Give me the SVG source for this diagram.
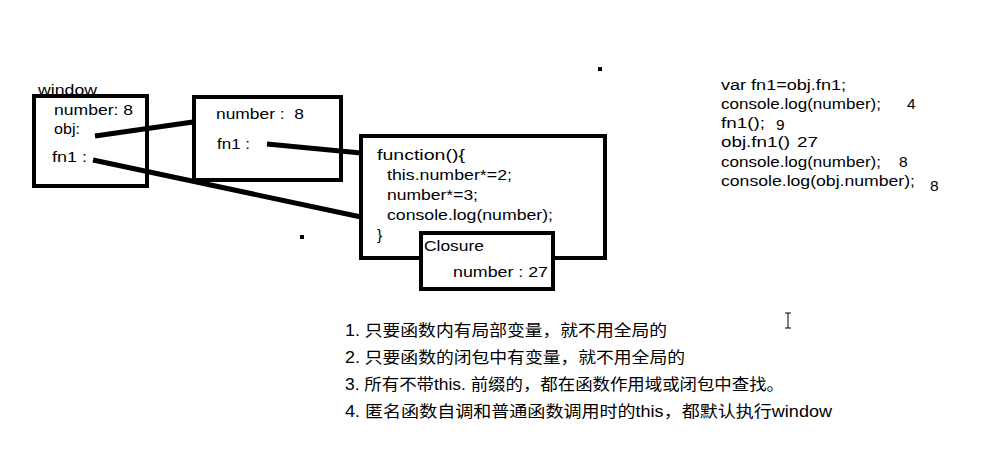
<svg xmlns="http://www.w3.org/2000/svg" width="1001" height="454" viewBox="0 0 1001 454">
<style>
text{font-family:"Liberation Sans",Arial,"Noto Sans CJK SC",sans-serif;font-size:15.5px;fill:#000;white-space:pre}
.cn{font-size:16px}
.box{fill:#fff;stroke:#000;stroke-width:4}
.open{fill:none}
.conn{stroke:#000;stroke-width:5;stroke-linecap:butt;fill:none}
</style>
<rect width="1001" height="454" fill="#fff"/>
<g id="connectors">
<line class="conn" x1="95" y1="136" x2="193" y2="122"/>
<line class="conn" x1="267" y1="144" x2="361" y2="153"/>
<line class="conn" x1="93" y1="160" x2="361" y2="217"/>
</g>
<g id="window">
<rect class="box open" x="34" y="96" width="113" height="90"/>
<text x="38" y="95" textLength="59" lengthAdjust="spacingAndGlyphs">window</text>
<text x="54" y="115" textLength="79" lengthAdjust="spacingAndGlyphs">number: 8</text>
<text x="54" y="134" textLength="26" lengthAdjust="spacingAndGlyphs">obj:</text>
<text x="52" y="162" textLength="35" lengthAdjust="spacingAndGlyphs">fn1 :</text>
</g>
<g id="obj">
<rect class="box open" x="194" y="97" width="147" height="83"/>
<text x="216" y="119" textLength="88" lengthAdjust="spacingAndGlyphs">number :  8</text>
<text x="217" y="149" textLength="33" lengthAdjust="spacingAndGlyphs">fn1 :</text>
</g>
<g id="function">
<rect class="box" x="361" y="136" width="244" height="122"/>
<text x="377" y="160" textLength="88" lengthAdjust="spacingAndGlyphs">function(){</text>
<text x="387" y="180" textLength="125" lengthAdjust="spacingAndGlyphs">this.number*=2;</text>
<text x="387" y="200" textLength="91" lengthAdjust="spacingAndGlyphs">number*=3;</text>
<text x="387" y="220" textLength="166" lengthAdjust="spacingAndGlyphs">console.log(number);</text>
<text x="377" y="240">}</text>
</g>
<g id="closure">
<rect class="box" x="421" y="233" width="132" height="56"/>
<text x="424" y="251" textLength="60" lengthAdjust="spacingAndGlyphs">Closure</text>
<text x="453" y="277" textLength="95" lengthAdjust="spacingAndGlyphs">number : 27</text>
</g>
<g id="output">
<text x="721" y="90" textLength="125" lengthAdjust="spacingAndGlyphs">var fn1=obj.fn1;</text>
<text x="721" y="109" textLength="160" lengthAdjust="spacingAndGlyphs">console.log(number);</text>
<text x="907" y="109">4</text>
<text x="721" y="128" textLength="44" lengthAdjust="spacingAndGlyphs">fn1();</text>
<text x="776" y="130">9</text>
<text x="721" y="147" textLength="69" lengthAdjust="spacingAndGlyphs">obj.fn1()</text>
<text x="797" y="147" textLength="21" lengthAdjust="spacingAndGlyphs">27</text>
<text x="721" y="167" textLength="160" lengthAdjust="spacingAndGlyphs">console.log(number);</text>
<text x="899" y="167">8</text>
<text x="721" y="186" textLength="194" lengthAdjust="spacingAndGlyphs">console.log(obj.number);</text>
<text x="930" y="191">8</text>
</g>
<g id="notes">
<text class="cn" x="345" y="336" textLength="322" lengthAdjust="spacingAndGlyphs">1. 只要函数内有局部变量，就不用全局的</text>
<text class="cn" x="345" y="363" textLength="340" lengthAdjust="spacingAndGlyphs">2. 只要函数的闭包中有变量，就不用全局的</text>
<text class="cn" x="345" y="390" textLength="439" lengthAdjust="spacingAndGlyphs">3. 所有不带this. 前缀的，都在函数作用域或闭包中查找。</text>
<text class="cn" x="345" y="417" textLength="487" lengthAdjust="spacingAndGlyphs">4. 匿名函数自调和普通函数调用时的this，都默认执行window</text>
</g>
<rect x="598" y="67" width="4" height="4" fill="#000"/>
<rect x="300" y="235" width="4" height="4" fill="#000"/>
<path d="M785 313h6M788 313v15M785 328h6" stroke="#000" stroke-width="1" fill="none"/>
</svg>
